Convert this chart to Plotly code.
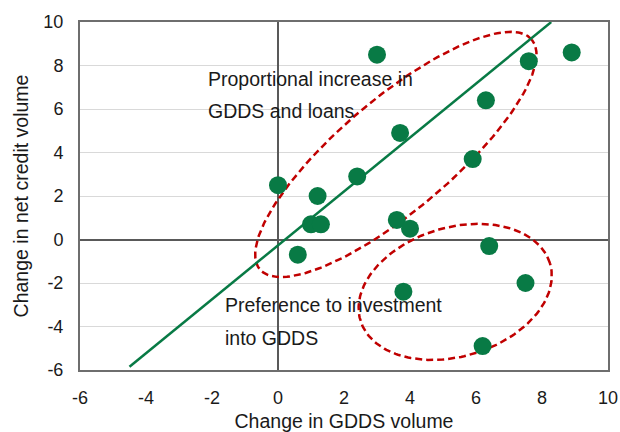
import numpy as np
import plotly.graph_objects as go

# ---- data ----
gdds_change = [0.0, 3.0, 8.9, 7.6, 6.3, 3.7, 5.9, 2.4, 1.2, 1.0, 1.3, 0.6, 3.6, 4.0, 6.4, 7.5, 3.8, 6.2]
credit_change = [2.5, 8.5, 8.6, 8.2, 6.4, 4.9, 3.7, 2.9, 2.0, 0.7, 0.7, -0.7, 0.9, 0.5, -0.3, -2.0, -2.4, -4.9]

trend_slope = 1.24
trend_intercept = -0.27
trend_x = [-4.5, 8.28]

x_ticks = [-6, -4, -2, 0, 2, 4, 6, 8, 10]
x_tick_labels = ["-6", "-4", "-2", "0", "2", "4", "6", "8", "10"]
y_ticks = [-6, -4, -2, 0, 2, 4, 6, 8, 10]
y_tick_labels = ["-6", "-4", "-2", "0", "2", "4", "6", "8", "10"]

labels_upper = ["Proportional increase in", "GDDS and loans"]
labels_lower = ["Preference to investment", "into GDDS"]

# ---- layout constants ----
W, H = 620, 432
ML, MR, MT, MB = 80, 12, 22, 62
XR = [-6, 10]
YR = [-6, 10]
PX = (W - ML - MR) / (XR[1] - XR[0])  # px per x unit
PY = (H - MT - MB) / (YR[1] - YR[0])  # px per y unit

GREEN = "#087a45"
RED = "#c00000"
FONT = "Liberation Sans, Arial, sans-serif"


def ellipse(cx, cy, a_px, b_px, ang_deg, n=200):
    t = np.linspace(0, 2 * np.pi, n)
    th = np.radians(ang_deg)
    dx = a_px * np.cos(t) * np.cos(th) - b_px * np.sin(t) * np.sin(th)
    dy = a_px * np.cos(t) * np.sin(th) + b_px * np.sin(t) * np.cos(th)
    return cx + dx / PX, cy + dy / PY


fig = go.Figure()

# ellipses
ex1, ey1 = ellipse(3.57, 3.91, 178, 56, 40.2)
ex2, ey2 = ellipse(5.37, -2.41, 99, 64.5, 16.8)
for ex, ey in [(ex1, ey1), (ex2, ey2)]:
    fig.add_trace(go.Scatter(x=ex, y=ey, mode="lines",
                             line=dict(color=RED, width=2.5, dash="7px,4px"),
                             hoverinfo="skip", showlegend=False))

# trend line
ty = [trend_slope * v + trend_intercept for v in trend_x]
fig.add_trace(go.Scatter(x=trend_x, y=ty, mode="lines",
                         line=dict(color=GREEN, width=2.5), showlegend=False))

# points
fig.add_trace(go.Scatter(x=gdds_change, y=credit_change, mode="markers",
                         marker=dict(color=GREEN, size=18, line=dict(width=0)),
                         showlegend=False))

annots = []
for txt, yv in zip(labels_upper, [7.38, 5.91]):
    annots.append(dict(x=-2.18, y=yv, text=txt, showarrow=False, xanchor="left",
                       yanchor="middle", font=dict(size=19.5, color="#1a1a1a", family=FONT)))
for txt, yv in zip(labels_lower, [-3.03, -4.52]):
    annots.append(dict(x=-1.66, y=yv, text=txt, showarrow=False, xanchor="left",
                       yanchor="middle", font=dict(size=19.5, color="#1a1a1a", family=FONT)))

fig.update_layout(
    width=W, height=H,
    margin=dict(l=ML, r=MR, t=MT, b=MB, autoexpand=False),
    paper_bgcolor="white", plot_bgcolor="white",
    font=dict(family=FONT, color="#1a1a1a"),
    annotations=annots,
    showlegend=False,
)
fig.update_xaxes(range=XR, tickvals=x_ticks, ticktext=x_tick_labels, showgrid=False,
                 automargin=True,
                 zeroline=True, zerolinecolor="#595959", zerolinewidth=1.5,
                 showline=True, linecolor="#6e6e6e", linewidth=2, mirror=True,
                 tickfont=dict(size=18, family=FONT), ticks="", ticklabelstandoff=10,
                 title=dict(text="Change in GDDS volume", font=dict(size=19.5, family=FONT), standoff=9))
fig.update_yaxes(range=YR, tickvals=y_ticks, ticktext=y_tick_labels, showgrid=True,
                 gridcolor="#d9d9d9", gridwidth=1, automargin=True,
                 zeroline=True, zerolinecolor="#595959", zerolinewidth=1.5,
                 showline=True, linecolor="#6e6e6e", linewidth=2, mirror=True,
                 tickfont=dict(size=18, family=FONT), ticks="", ticklabelstandoff=11,
                 title=dict(text="Change in net credit volume", font=dict(size=19.5, family=FONT), standoff=10))

fig.write_html("out.html", config={"displayModeBar": False},
               post_script="document.body.style.margin='0';document.body.style.padding='0';")
